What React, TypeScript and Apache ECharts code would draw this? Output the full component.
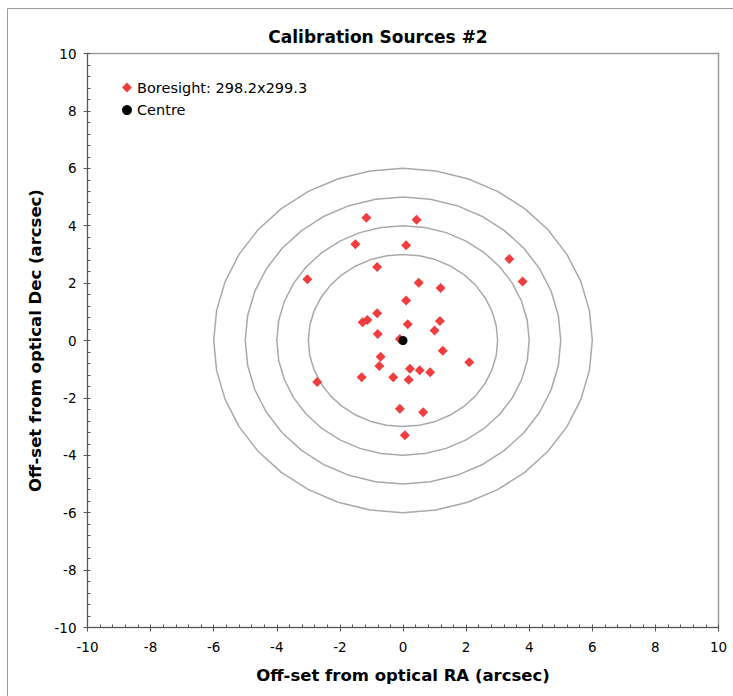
import React, { useEffect, useRef } from "react";
import * as echarts from "echarts";

// Titles and legend entries
const TITLE = "Calibration Sources #2";
const X_NAME = "Off-set from optical RA (arcsec)";
const Y_NAME = "Off-set from optical Dec (arcsec)";
const BORESIGHT_NAME = "Boresight: 298.2x299.3";
const CENTRE_NAME = "Centre";

// Boresight offsets of the calibration sources (arcsec)
const boresightRA = [
  -1.16, 0.43, -1.51, 0.1, 3.37, 3.79, -3.03, -0.82, 0.5, 1.19, 0.1, -0.82,
  -1.28, -1.13, 1.17, 0.15, 1.0, -0.8, -0.1, 1.26, -0.71, -0.75, 2.1, 0.22,
  0.53, 0.86, -1.31, -0.31, 0.18, -2.72, -0.1, 0.64, 0.06,
];
const boresightDec = [
  4.28, 4.21, 3.35, 3.32, 2.84, 2.06, 2.13, 2.56, 2.01, 1.83, 1.39, 0.95,
  0.64, 0.71, 0.68, 0.57, 0.35, 0.23, 0.05, -0.36, -0.57, -0.89, -0.76, -0.98,
  -1.04, -1.11, -1.28, -1.28, -1.37, -1.45, -2.38, -2.5, -3.3,
];

// Optical centre
const centreRA = [0];
const centreDec = [0];

// Reference rings (arcsec) and the angular step of their outline (degrees)
const ringRadii = [3, 4, 5, 6];
const ringStepDeg = 10;

// Axis range and tick spacing
const AXIS_MIN = -10;
const AXIS_MAX = 10;
const MAJOR_STEP = 2;
const MINOR_STEP = 0.4;

const FONT = "DejaVu Sans";

function ringOutline(r: number): number[][] {
  const pts: number[][] = [];
  for (let a = 0; a <= 360; a += ringStepDeg) {
    const t = (a * Math.PI) / 180;
    pts.push([r * Math.sin(t), r * Math.cos(t)]);
  }
  return pts;
}

export default function App() {
  const ref = useRef<HTMLDivElement>(null);

  useEffect(() => {
    if (!ref.current) return;
    const chart = echarts.init(ref.current, undefined, { renderer: "svg" });

    const mainAxis = (name: string, isX: boolean) => ({
      type: "value" as const,
      min: AXIS_MIN,
      max: AXIS_MAX,
      interval: MAJOR_STEP,
      name,
      nameLocation: "middle" as const,
      nameGap: isX ? 39 : 43,
      nameTextStyle: {
        fontFamily: FONT,
        fontWeight: "bold" as const,
        fontSize: 16.5,
        color: "#000",
      },
      axisLine: { show: true, onZero: false, lineStyle: { color: "#555", width: 1 } },
      axisTick: { show: true, inside: false, length: 4, lineStyle: { color: "#555" } },
      axisLabel: {
        fontFamily: FONT,
        fontSize: 13.5,
        color: "#000",
        margin: isX ? 12 : 11,
      },
      splitLine: { show: false },
    });

    const minorAxis = (isX: boolean) => ({
      type: "value" as const,
      min: AXIS_MIN,
      max: AXIS_MAX,
      interval: MINOR_STEP,
      position: isX ? ("bottom" as const) : ("left" as const),
      axisLine: { show: false, onZero: false },
      axisTick: { show: true, inside: true, length: 3, lineStyle: { color: "#555" } },
      axisLabel: { show: false },
      splitLine: { show: false },
    });

    const ringSeries = ringRadii.map((r) => ({
      name: `ring-${r}`,
      type: "line" as const,
      data: ringOutline(r),
      symbol: "none",
      silent: true,
      z: 1,
      lineStyle: { color: "#a9a9a9", width: 1.5 },
    }));

    chart.setOption({
      animation: false,
      backgroundColor: "#fff",
      textStyle: { fontFamily: FONT },
      title: {
        text: TITLE,
        left: 373,
        top: 23,
        textAlign: "center",
        textStyle: { fontFamily: FONT, fontWeight: "bold", fontSize: 17, color: "#000" },
      },
      legend: {
        orient: "vertical",
        left: 117,
        top: 75,
        itemWidth: 10,
        itemHeight: 10,
        itemGap: 7.6,
        itemTextGap: 5,
        textStyle: { fontFamily: FONT, fontSize: 14.5, color: "#000", lineHeight: 15 },
        data: [
          { name: BORESIGHT_NAME, icon: "diamond" },
          { name: CENTRE_NAME, icon: "circle" },
        ],
        selectedMode: false,
      },
      grid: {
        left: 87.5,
        right: 14.5,
        top: 53.5,
        bottom: 68.5,
        show: true,
        borderColor: "#9c9c9c",
        borderWidth: 1.5,
        backgroundColor: "transparent",
      },
      xAxis: [mainAxis(X_NAME, true), minorAxis(true)],
      yAxis: [mainAxis(Y_NAME, false), minorAxis(false)],
      graphic: [
        {
          type: "rect",
          shape: { x: 7.5, y: 8.5, width: 760, height: 720 },
          style: { fill: "none", stroke: "#9a9a9a", lineWidth: 1 },
          silent: true,
          z: 0,
        },
      ],
      series: [
        ...ringSeries,
        {
          name: BORESIGHT_NAME,
          type: "scatter",
          symbol: "diamond",
          symbolSize: 10,
          z: 3,
          itemStyle: { color: "#f03e3e", opacity: 1 },
          data: boresightRA.map((x, i) => [x, boresightDec[i]]),
        },
        {
          name: CENTRE_NAME,
          type: "scatter",
          symbol: "circle",
          symbolSize: 9,
          z: 4,
          itemStyle: { color: "#000", opacity: 1 },
          data: centreRA.map((x, i) => [x, centreDec[i]]),
        },
      ],
    });

    return () => chart.dispose();
  }, []);

  return (
    <div
      ref={ref}
      style={{ position: "fixed", left: 0, top: 0, width: 733, height: 696 }}
    />
  );
}
